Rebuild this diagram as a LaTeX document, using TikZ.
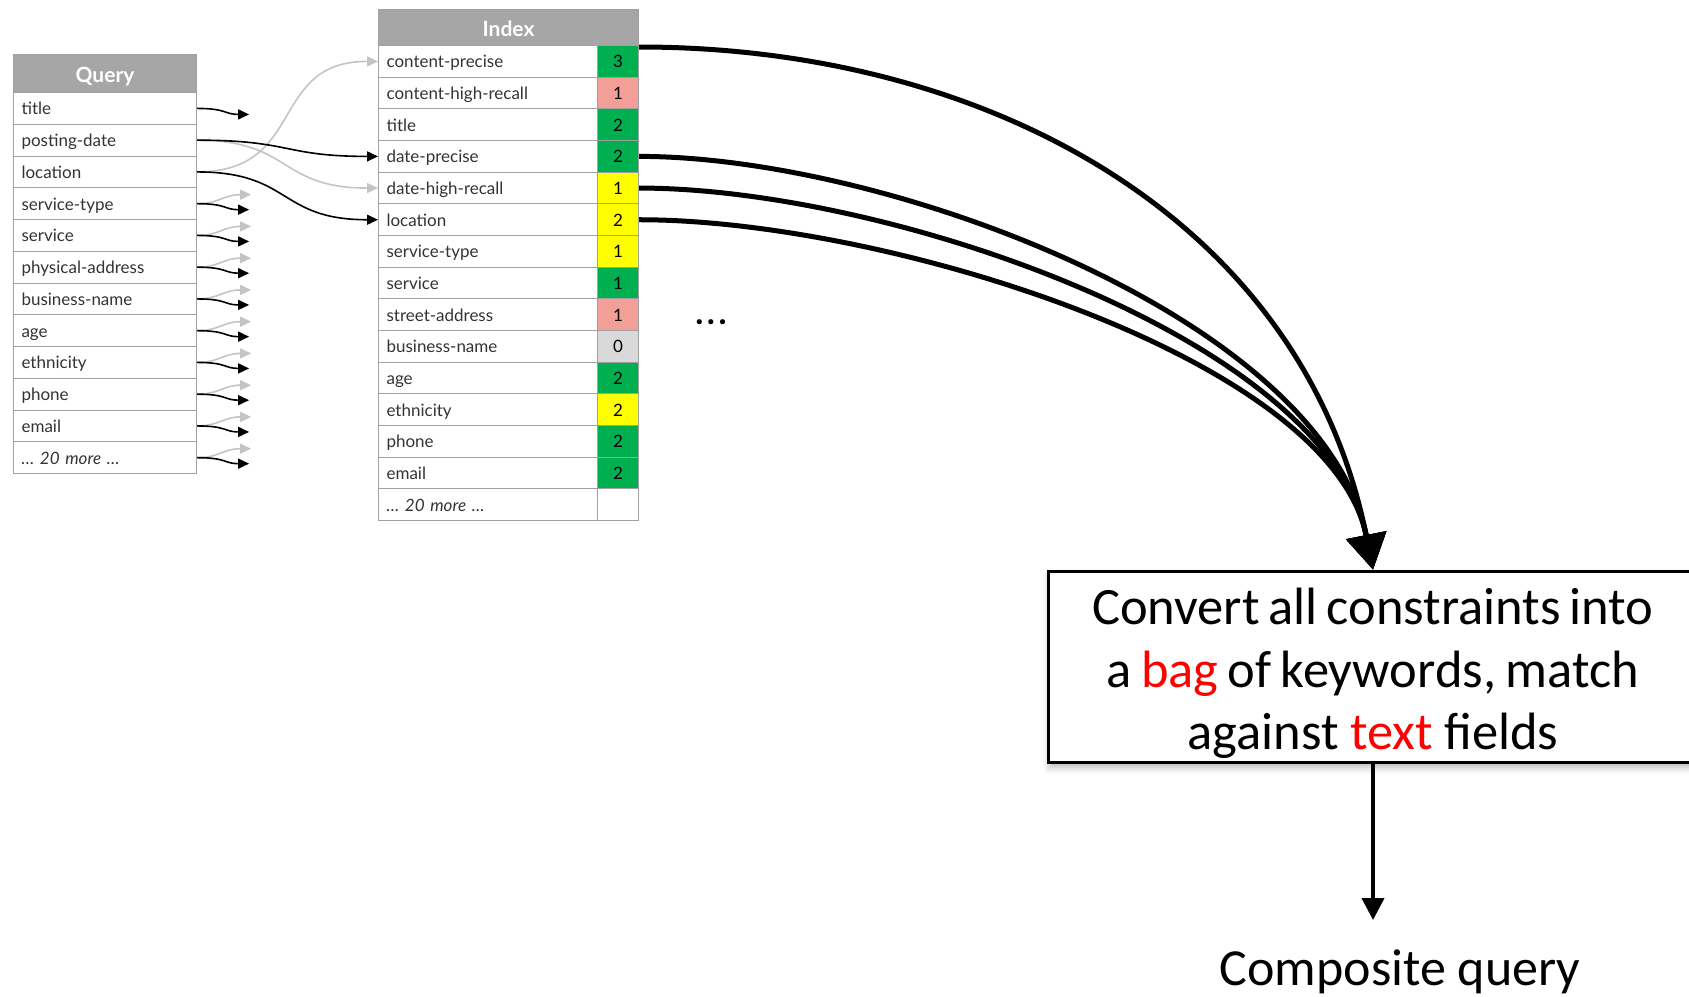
\documentclass[tikz,border=0pt]{standalone}
\usepackage{fontspec}
\setmainfont{Lato}
\newfontfamily\boxfont{Carlito}
\usetikzlibrary{arrows.meta,shadows.blur}
\definecolor{hdrgray}{HTML}{A6A6A6}
\definecolor{gridgray}{HTML}{A0A0A0}
\definecolor{cgreen}{HTML}{00B050}
\definecolor{cpink}{HTML}{F2A097}
\definecolor{cyellow}{HTML}{FFFF00}
\definecolor{cgray}{HTML}{D9D9D9}
\definecolor{arrowgray}{HTML}{C4C4C4}
\definecolor{txtgray}{HTML}{333333}
\definecolor{hlred}{HTML}{FF0000}
\newcommand{\tightwords}{\spaceskip=0.15em plus 0.05em minus 0.05em\relax}
\begin{document}
\begin{tikzpicture}[x=1pt,y=-1pt,
  grid/.style={draw=gridgray, line width=1.1pt},
  hdr/.style={grid, fill=hdrgray, text=white, anchor=north west, inner sep=0pt,
    text height=19pt, text depth=1pt,
    font=\bfseries\fontsize{21}{24}\selectfont},
  qcell/.style={grid, anchor=north west, minimum height=31.75pt, text width=167pt,
    text height=14.5pt, text depth=1.5pt,
    inner xsep=8pt, inner ysep=0pt, align=left, font=\fontsize{17}{20}\selectfont, text=txtgray},
  icell/.style={grid, anchor=north west, minimum height=31.67pt, text width=203pt,
    text height=14.5pt, text depth=1.5pt,
    inner xsep=8pt, inner ysep=0pt, align=left, font=\fontsize{17}{20}\selectfont, text=txtgray},
  ncell/.style={grid, anchor=north west, minimum height=31.67pt, minimum width=41pt,
    text height=14.5pt, text depth=1.5pt,
    inner sep=0pt, font=\fontsize{17}{20}\selectfont, text=black},
  blk/.style={black, line width=1.6pt, -{Triangle[length=11pt,width=10pt]}},
  gry/.style={arrowgray, line width=1.6pt, -{Triangle[length=11pt,width=10pt]}},
  feed/.style={black, line width=5pt, -{Triangle[length=35pt,width=40pt]}},
  bigbox/.style={draw=black, line width=3pt, fill=white, minimum width=650pt, minimum height=191pt,
    text width=640pt, align=center, inner sep=0pt,
    font=\boxfont\fontsize{52.5}{62.5}\selectfont,
    blur shadow={shadow xshift=2pt, shadow yshift=-5pt, shadow blur radius=7pt, shadow opacity=30}},
]
\useasboundingbox (0,0) rectangle (1689,996);

% ---- query table ----
\node[hdr, minimum width=183pt, minimum height=38pt] (qh) at (13,54) {Query};
\foreach \t [count=\i] in {title, posting-date, location, service-type, service,
    physical-address, business-name, age, ethnicity, phone, email,
    {\textit{\ldots{} 20 more \ldots}}}
  \node[qcell] (q\i) at (13,{92+31.75*(\i-1)}) {\t};

% ---- index table ----
\node[hdr, minimum width=260pt, minimum height=36pt] (ih) at (378,9) {Index};
\foreach \t/\n/\c [count=\i] in {content-precise/3/cgreen, content-high-recall/1/cpink,
    title/2/cgreen, date-precise/2/cgreen, date-high-recall/1/cyellow,
    location/2/cyellow, service-type/1/cyellow, service/1/cgreen,
    street-address/1/cpink, business-name/0/cgray, age/2/cgreen,
    ethnicity/2/cyellow, phone/2/cgreen, email/2/cgreen,
    {\textit{\ldots{} 20 more \ldots}}/{}/white}
{
  \node[icell] (i\i) at (378,{45+31.67*(\i-1)}) {\t};
  \node[ncell, fill=\c] (n\i) at (597,{45+31.67*(\i-1)}) {\n};
}

\node[font=\bfseries\fontsize{34}{34}\selectfont] (more) at (711,322) {.\hspace{3.5pt}.\hspace{3.5pt}.};

% ---- short outgoing arrows of the query fields ----
\coordinate (qb1) at ([shift={(52,6)}]q1.east);
\draw[blk] (q1.east) .. controls +(30,0) and +(-25,0) .. (qb1);
\foreach \i in {4,...,12} {
  \coordinate (qb\i) at ([shift={(52,6)}]q\i.east);
  \coordinate (qg\i) at ([shift={(54,-9)}]q\i.east);
  \draw[gry] (q\i.east) .. controls +(22,0) and +(-28,0) .. (qg\i);
  \draw[blk] (q\i.east) .. controls +(30,0) and +(-25,0) .. (qb\i);
}

% ---- query fields mapped onto index fields ----
\draw[gry] (q2.east) .. controls +(95,0) and +(-100,0) .. (i5.west);
\draw[gry] (q3.east) .. controls +(110,0) and +(-110,0) .. (i1.west);
\draw[blk] (q2.east) .. controls +(95,0) and +(-95,0) .. (i4.west);
\draw[blk] (q3.east) .. controls +(95,0) and +(-100,0) .. (i6.west);

% ---- conversion box ----
\node[bigbox] (box) at (1373,666.5)
  {\tightwords\rule{0pt}{51pt}Convert all constraints into\\ a \textcolor{hlred}{bag} of keywords, match\\
   against \textcolor{hlred}{text} fields};

\draw[feed] ([yshift=-2pt]n1.north east) .. controls +(350,0) and +(-70,-350) .. (box.north);
\draw[feed] (n4.east) .. controls +(250,0) and +(-50,-250) .. (box.north);
\draw[feed] (n5.east) .. controls +(250,0) and +(-46,-230) .. (box.north);
\draw[feed] (n6.east) .. controls +(250,0) and +(-42,-210) .. (box.north);

% ---- result ----
\node[font=\boxfont\fontsize{52}{60}\selectfont, anchor=base, inner ysep=1pt] (cq) at (1400,985)
  {Composite query};
\draw[black, line width=4pt, shorten >=28pt, -{Triangle[length=22pt,width=22pt]}]
  (box.south) -- (box.south |- cq.north);
\end{tikzpicture}
\end{document}
